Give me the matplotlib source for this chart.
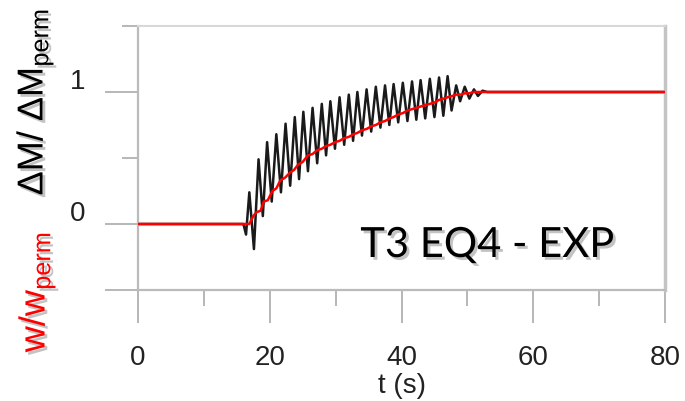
import matplotlib
matplotlib.use("Agg")
import matplotlib.pyplot as plt
import matplotlib.patheffects as pe
from matplotlib.transforms import ScaledTranslation

plt.rcParams['font.family'] = ['Liberation Sans', 'DejaVu Sans']
plt.rcParams['mathtext.fontset'] = 'custom'
plt.rcParams['mathtext.rm'] = 'Liberation Sans'
plt.rcParams['mathtext.it'] = 'Liberation Sans:italic'

# w/w_perm (red)
red_t = [0, 16.9, 17.5, 18.0, 18.6, 19.1, 19.7, 20.4, 21.0, 21.6, 22.3, 23.1, 23.7, 24.3, 25.0,
         25.8, 26.5, 27.2, 27.9, 28.5, 29.2, 29.9, 30.6, 31.3, 32.0, 32.7, 33.3, 34.0, 34.7,
         35.4, 36.1, 36.8, 37.5, 38.2, 38.8, 39.5, 40.2, 40.9, 41.6, 42.3, 42.9, 43.6, 44.3,
         45.0, 45.7, 46.4, 47.0, 47.7, 48.3, 49.0, 49.6, 50.3, 51.0, 52.0, 80]
red_y = [0, 0, 0.06, 0.09, 0.10, 0.17, 0.18, 0.25, 0.27, 0.33, 0.35, 0.39, 0.41, 0.45, 0.47,
         0.52, 0.53, 0.56, 0.57, 0.59, 0.60, 0.62, 0.63, 0.65, 0.66, 0.68, 0.69, 0.71, 0.72,
         0.74, 0.75, 0.77, 0.78, 0.80, 0.81, 0.83, 0.84, 0.86, 0.87, 0.88, 0.89, 0.90, 0.91,
         0.92, 0.94, 0.95, 0.96, 0.97, 0.98, 0.98, 0.99, 0.99, 1.0, 1.0, 1.0]

# dM/dM_perm (black), peaks and troughs
black_t = [0, 16.0, 16.4, 16.9, 17.6, 18.3, 18.95, 19.6, 20.3, 21.0, 21.7, 22.4, 23.1, 23.8,
           24.45, 25.1, 25.8, 26.5, 27.2, 27.9, 28.55, 29.2, 29.9, 30.6, 31.3, 32.0, 32.65,
           33.3, 34.0, 34.7, 35.4, 36.1, 36.8, 37.5, 38.15, 38.8, 39.5, 40.2, 40.9, 41.6,
           42.25, 42.9, 43.6, 44.3, 45.0, 45.7, 46.35, 47.0, 47.6, 48.3, 48.9, 49.6, 50.3,
           51.0, 51.6, 52.3, 53.0, 80]
black_y = [0, 0, -0.08, 0.24, -0.19, 0.49, 0.06, 0.62, 0.17, 0.68, 0.24, 0.76, 0.29, 0.81,
           0.34, 0.85, 0.40, 0.88, 0.46, 0.91, 0.52, 0.93, 0.57, 0.96, 0.60, 0.98, 0.63,
           1.00, 0.67, 1.02, 0.70, 1.04, 0.73, 1.05, 0.75, 1.06, 0.77, 1.07, 0.78, 1.08,
           0.79, 1.09, 0.80, 1.10, 0.81, 1.11, 0.82, 1.12, 0.86, 1.05, 0.93, 1.04, 0.95,
           1.02, 0.97, 1.01, 1.0, 1.0]

xticks = [0, 20, 40, 60, 80]
xminor = [10, 30, 50, 70]
yticks = [-0.5, 0, 1]
ytick_labels = ['', '0', '1']
yminor = [0.5, 1.5]

fig = plt.figure(figsize=(6.85, 4.02), dpi=100)
ax = fig.add_axes([138/685, 1 - 291/402, 527/685, 264/402])

ax.plot(black_t, black_y, color='#1a1a1a', lw=1.8, zorder=2)
ax.plot(red_t, red_y, color='#ff0000', lw=1.8, zorder=3)

ax.set_xlim(0, 80)
ax.set_ylim(-0.5, 1.5)

tick_col = '#aaaaaa'
ax.set_xticks(xticks)
ax.set_xticks(xminor, minor=True)
ax.set_yticks(yticks)
ax.set_yticklabels(ytick_labels)
ax.set_yticks(yminor, minor=True)
ax.tick_params(which='major', length=24, width=1.2, color=tick_col, labelsize=20,
               labelcolor='#222222')
ax.tick_params(which='minor', length=11.5, width=1.2, color=tick_col)
ax.tick_params(axis='x', which='major', pad=15)
ax.tick_params(axis='y', which='major', pad=14)

for lab in ax.get_yticklabels():
    lab.set_transform(lab.get_transform() + ScaledTranslation(0, 10/72, fig.dpi_scale_trans))

for s in ['left', 'bottom']:
    ax.spines[s].set_color('#bbbbbb')
    ax.spines[s].set_linewidth(1.6)
ax.spines['top'].set_color('#d8d8d8')
ax.spines['top'].set_linewidth(1.5)
ax.spines['right'].set_color('#c4c4c4')
ax.spines['right'].set_linewidth(2.5)

ax.set_xlabel('t (s)', fontsize=20, color='#222222', labelpad=1)

shadow = [pe.withSimplePatchShadow(offset=(2, -2), shadow_rgbFace='#888888', alpha=0.5)]

fig.text(35/685, 1 - 103/402, r'$\mathregular{\Delta M/\ \Delta M_{perm}}$', rotation=90,
         ha='center', va='center', fontsize=26, color='black', path_effects=shadow)
fig.text(37/685, 1 - 293/402, r'$\mathregular{w/w_{perm}}$', rotation=90,
         ha='center', va='center', fontsize=26, color='#ff0000', path_effects=shadow)

fig.text(487/685, 1 - 246/402, 'T3 EQ4 - EXP', fontsize=30, family=['Lato', 'DejaVu Sans'],
         color='black', ha='center', va='center', path_effects=shadow)

fig.savefig('out.png', dpi=100)
